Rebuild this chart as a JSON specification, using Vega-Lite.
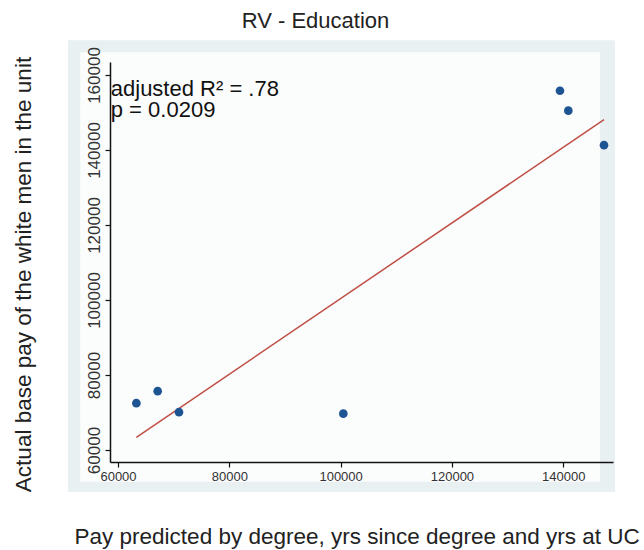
{
  "$schema": "https://vega.github.io/schema/vega-lite/v6.json",
  "width": 503,
  "height": 400,
  "autosize": {"type": "none"},
  "padding": {"left": 110, "top": 62, "right": 31, "bottom": 88},
  "background": "white",
  "config": {"view": {"stroke": null}, "font": "Liberation Sans"},
  "title": {"text": "RV - Education", "fontSize": 22, "fontWeight": "normal", "color": "#222", "font": "Liberation Sans", "anchor": "middle", "dx": -46, "offset": 7},
  "datasets": {
    "points": [
      {"predicted": 63300, "actual": 72500},
      {"predicted": 67130, "actual": 75700},
      {"predicted": 70960, "actual": 70100},
      {"predicted": 100490, "actual": 69700},
      {"predicted": 139420, "actual": 155800},
      {"predicted": 140920, "actual": 150500},
      {"predicted": 147330, "actual": 141300}
    ],
    "fit": [
      {"predicted": 63300, "fitted": 63380},
      {"predicted": 147330, "fitted": 148090}
    ],
    "panel": [{"xa": 51000, "xb": 149300, "ya": 48800, "yb": 169300}],
    "inner": [{"xa": 53200, "xb": 146600, "ya": 51500, "yb": 166100}],
    "notes": [
      {"px": 58700, "py": 154400, "label": "adjusted R² = .78"},
      {"px": 58700, "py": 148800, "label": "p = 0.0209"}
    ]
  },
  "layer": [
    {
      "data": {"name": "panel"},
      "mark": {"type": "rect", "fill": "#e9f0f2", "clip": false},
      "encoding": {
        "x": {
          "field": "xa", "type": "quantitative",
          "scale": {"domain": [58562, 148948], "nice": false, "zero": false},
          "axis": {
            "zindex": 1,
            "title": "Pay predicted by degree, yrs since degree and yrs at UC",
            "titleFontSize": 22.5, "titleFontWeight": "normal", "titleColor": "#222", "titleFont": "Liberation Sans",
            "titleX": 246.7, "titleY": 81, "titleAlign": "center", "titleBaseline": "alphabetic",
            "values": [60000, 80000, 100000, 120000, 140000], "format": "d",
            "labelFont": "Liberation Sans", "labelFontSize": 13, "labelColor": "#333", "labelPadding": 3,
            "tickSize": 5, "tickColor": "#111", "tickWidth": 1.2,
            "domainColor": "#111", "domainWidth": 1.5, "grid": false
          }
        },
        "x2": {"field": "xb"},
        "y": {
          "field": "ya", "type": "quantitative",
          "scale": {"domain": [56800, 163467], "nice": false, "zero": false},
          "axis": {
            "zindex": 1,
            "title": "Actual base pay of the white men in the unit",
            "titleFontSize": 22.5, "titleFontWeight": "normal", "titleColor": "#222", "titleFont": "Liberation Sans",
            "titleX": -80, "titleY": 212, "titleAlign": "center", "titleBaseline": "alphabetic", "titleAngle": 270,
            "values": [60000, 80000, 100000, 120000, 140000, 160000], "format": "d",
            "labelAngle": 270, "labelAlign": "center", "labelBaseline": "bottom",
            "labelFont": "Liberation Sans", "labelFontSize": 17, "labelColor": "#333", "labelPadding": 2,
            "tickSize": 5, "tickColor": "#111", "tickWidth": 1.2,
            "domainColor": "#111", "domainWidth": 1.5, "grid": false
          }
        },
        "y2": {"field": "yb"}
      }
    },
    {
      "data": {"name": "inner"},
      "mark": {"type": "rect", "fill": "#fbfcfc", "clip": false},
      "encoding": {
        "x": {"field": "xa", "type": "quantitative"},
        "x2": {"field": "xb"},
        "y": {"field": "ya", "type": "quantitative"},
        "y2": {"field": "yb"}
      }
    },
    {
      "data": {"name": "fit"},
      "mark": {"type": "line", "color": "#bf4e45", "strokeWidth": 1.5},
      "encoding": {
        "x": {"field": "predicted", "type": "quantitative"},
        "y": {"field": "fitted", "type": "quantitative"}
      }
    },
    {
      "data": {"name": "points"},
      "mark": {"type": "point", "filled": true, "size": 75, "color": "#1d5592", "opacity": 1},
      "encoding": {
        "x": {"field": "predicted", "type": "quantitative"},
        "y": {"field": "actual", "type": "quantitative"}
      }
    },
    {
      "data": {"name": "notes"},
      "mark": {"type": "text", "align": "left", "baseline": "alphabetic", "fontSize": 22, "color": "#111", "font": "Liberation Sans"},
      "encoding": {
        "x": {"field": "px", "type": "quantitative"},
        "y": {"field": "py", "type": "quantitative"},
        "text": {"field": "label"}
      }
    }
  ]
}
